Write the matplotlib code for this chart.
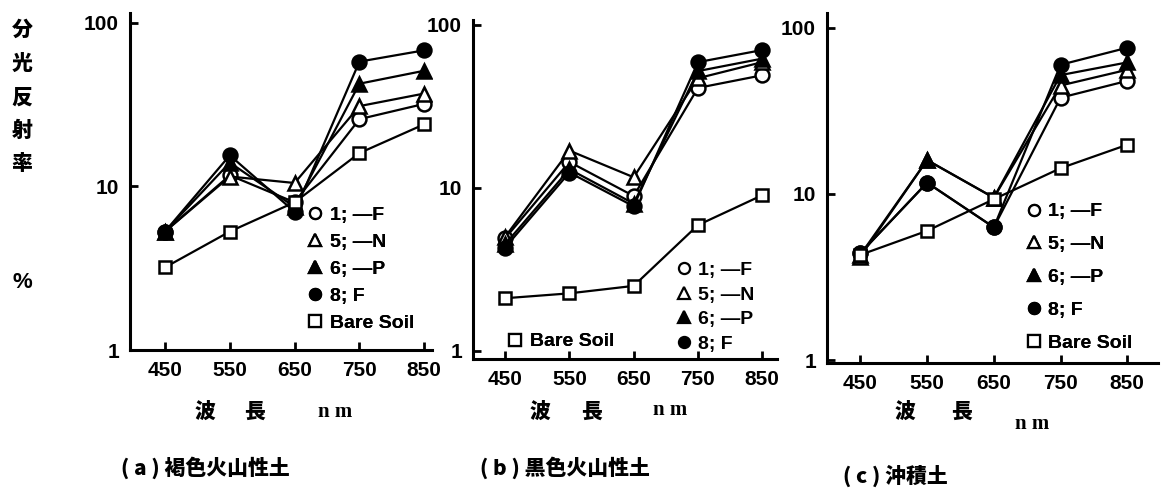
import matplotlib
matplotlib.use("Agg")
import matplotlib.pyplot as plt
from matplotlib.lines import Line2D

plt.rcParams['font.family'] = ['Liberation Sans', 'Noto Sans CJK JP', 'DejaVu Sans']
plt.rcParams['font.weight'] = 'bold'

wavelength = [450, 550, 650, 750, 850]
series_labels = ['1; —F', '5; —N', '6; —P', '8; F', 'Bare Soil']

# (a) 褐色火山性土
a_1F = [5.3, 11.7, 8.0, 25.8, 32]
a_5N = [5.3, 11.5, 10.5, 31, 37]
a_6P = [5.3, 14.0, 7.5, 42.5, 51]
a_8F = [5.3, 15.5, 7.0, 58, 68]
a_bare = [3.2, 5.3, 8.0, 16, 24]

# (b) 黒色火山性土
b_1F = [4.9, 14.4, 8.9, 41, 49]
b_5N = [5.0, 16.9, 11.6, 47, 59]
b_6P = [4.5, 13.0, 8.0, 52, 62]
b_8F = [4.3, 12.4, 7.7, 59, 70]
b_bare = [2.1, 2.25, 2.5, 5.9, 9.0]

# (c) 沖積土
c_1F = [4.4, 11.7, 6.3, 38, 48]
c_5N = [4.2, 16.0, 9.5, 45, 56]
c_6P = [4.3, 16.0, 9.5, 52, 62]
c_8F = [4.4, 11.7, 6.3, 60, 76]
c_bare = [4.3, 6.0, 9.3, 14.3, 19.8]

captions = ['( a ) 褐色火山性土', '( b ) 黒色火山性土', '( c ) 沖積土']

styles = [
    dict(marker='o', mfc='white'),
    dict(marker='^', mfc='white'),
    dict(marker='^', mfc='black'),
    dict(marker='o', mfc='black'),
    dict(marker='s', mfc='white'),
]

W, H = 1166, 504
fig = plt.figure(figsize=(W / 100, H / 100), dpi=100)


def px_axes(left, right, top, bottom):
    return fig.add_axes([left / W, 1 - bottom / H, (right - left) / W, (bottom - top) / H])


def draw_panel(ax, data, xlim, ylim):
    for vals, st in zip(data, styles):
        ms = 9 if st['marker'] == 's' else 10
        ax.plot(wavelength, vals, color='black', lw=1.6, marker=st['marker'],
                mfc=st['mfc'], mec='black', mew=1.8, ms=ms)
    ax.set_yscale('log')
    ax.set_xlim(*xlim)
    ax.set_ylim(*ylim)
    ax.set_yticks([1, 10, 100])
    ax.set_yticklabels(['1', '10', '100'])
    ax.minorticks_off()
    ax.set_xticks(wavelength)
    ax.set_xticklabels([str(w) for w in wavelength])
    for s in ['top', 'right']:
        ax.spines[s].set_visible(False)
    for s in ['left', 'bottom']:
        ax.spines[s].set_linewidth(2.2)
    ax.tick_params(direction='in', length=6, width=2, labelsize=15, pad=8)
    for lab in ax.get_xticklabels() + ax.get_yticklabels():
        lab.set_fontweight('bold')


def proxies(idx):
    out = []
    for i in idx:
        st = styles[i]
        out.append(Line2D([], [], ls='none', marker=st['marker'], mfc=st['mfc'],
                          mec='black', mew=1.6, ms=8, color='black'))
    return out


def add_legend(ax, idx, anchor, spacing):
    leg = ax.legend(proxies(idx), [series_labels[i] for i in idx], loc='upper left',
                    bbox_to_anchor=anchor, frameon=False, handlelength=0.7,
                    handletextpad=0.4, labelspacing=spacing, borderaxespad=0,
                    prop=dict(size=14, weight='bold'))
    ax.add_artist(leg)


ax_a = px_axes(130, 432, 13, 350)
draw_panel(ax_a, [a_1F, a_5N, a_6P, a_8F, a_bare], (396, 862), (1, 115))
add_legend(ax_a, [0, 1, 2, 3, 4], (0.565, 0.45), 0.48)

ax_b = px_axes(473, 777, 20, 359)
draw_panel(ax_b, [b_1F, b_5N, b_6P, b_8F, b_bare], (400, 873), (0.89, 107))
add_legend(ax_b, [0, 1, 2, 3], (0.645, 0.31), 0.35)
add_legend(ax_b, [4], (0.09, 0.1), 0.2)

ax_c = px_axes(827, 1158, 13, 363)
draw_panel(ax_c, [c_1F, c_5N, c_6P, c_8F, c_bare], (400, 896), (0.96, 123))
add_legend(ax_c, [0, 1, 2, 3, 4], (0.58, 0.48), 0.78)

# 縦軸ラベル
cjk = ['Noto Sans CJK JP', 'DejaVu Sans']
for ch, y in zip('分光反射率', [30, 64, 98, 131, 164]):
    fig.text(22 / W, 1 - y / H, ch, family=cjk, weight='heavy', fontsize=15,
             ha='center', va='center')
fig.text(22 / W, 1 - 283 / H, '%', fontsize=16, weight='bold', ha='center', va='center')

# 横軸ラベル
for xs, y_nm, x_nm in [((205, 255), 412, 335), ((540, 592), 410, 670), ((905, 962), 412, 1032)]:
    fig.text(xs[0] / W, 1 - 412 / H, '波', family=cjk, weight='heavy', fontsize=15,
             ha='center', va='center')
    fig.text(xs[1] / W, 1 - 412 / H, '長', family=cjk, weight='heavy', fontsize=15,
             ha='center', va='center')
    fig.text(x_nm / W, 1 - (y_nm if x_nm != 1032 else 424) / H, 'n m',
             family='Liberation Serif', weight='bold', fontsize=15, ha='center', va='center')

for text, x, y in zip(captions, [205, 565, 895], [468, 468, 476]):
    fig.text(x / W, 1 - y / H, text, family=cjk, weight='heavy', fontsize=15,
             ha='center', va='center')

fig.savefig('out.png', dpi=100)
